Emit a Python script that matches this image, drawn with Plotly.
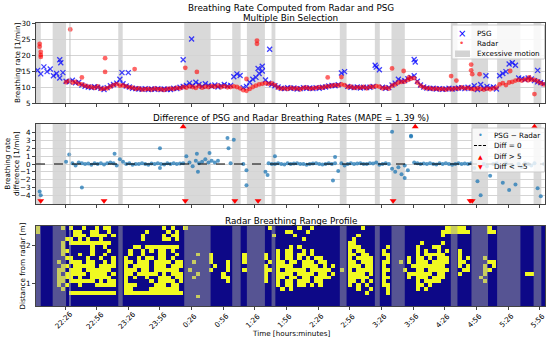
import plotly.graph_objects as go

FONT = "DejaVu Sans"

# ---------------- data ----------------
tick_minutes = [26, 56, 86, 116, 146, 176, 206, 236, 266, 296, 326, 356, 386, 416, 446, 476]
tick_labels = ["22:26", "22:56", "23:26", "23:56", "0:26", "0:56", "1:26", "1:56",
               "2:26", "2:56", "3:26", "3:56", "4:26", "4:56", "5:26", "5:56"]

# excessive motion intervals (minutes after 22:00)
motion_start = [-1.5, 14.3, 76.5, 139, 184.5, 198.4, 221.8, 286.5, 319.7, 335.5, 391.7, 411.3, 435.6, 470.2]
motion_end = [3.0, 27, 80.7, 164, 192.5, 215.5, 225.4, 292.9, 324.4, 348.1, 398, 427, 457.7, 477.5]
marker_line_min = 30.7

# breathing rate samples every 3 minutes, t = 0 .. 480
psg_rate = [
    15.2, 14.1, 16.3, 14.8, 15.6, 13.5, 14.2, 12.8,
    14.5, 11.8, 11.6, 12.1, 11.3, 11.5, 10.6, 10.2,
    10.0, 9.8, 10.1, 9.9, 9.6, 9.2, 9.8, 10.4,
    10.8, 11.2, 12.4, 11.0, 10.3, 10.0, 9.6, 9.5,
    9.4, 9.3, 9.5, 9.2, 9.4, 9.3, 9.5, 9.2,
    9.4, 9.3, 9.2, 9.6, 9.5, 9.9, 10.2, 10.5,
    11.2, 10.4, 11.5, 10.8, 10.2, 11.0, 10.5, 10.2,
    10.6, 10.0, 10.4, 10.8, 10.3, 10.5, 13.2, 14.1,
    13.6, 9.8, 10.2, 11.5, 12.4, 13.0, 14.2, 15.0,
    12.2, 11.2, 10.8, 10.4, 10.0, 9.6, 9.5, 9.8,
    9.6, 9.7, 9.4, 9.5, 9.8, 9.6, 9.7, 9.5,
    9.8, 9.6, 9.9, 10.0, 10.3, 10.5, 10.4, 10.7,
    14.4, 14.8, 10.2, 9.9, 9.8, 10.0, 9.7, 9.9,
    9.8, 9.9, 10.2, 16.2, 15.4, 9.9, 9.6, 9.8,
    10.6, 11.2, 12.4, 11.8, 12.0, 12.6, 13.0, 13.5,
    11.8, 10.6, 10.0, 9.7, 9.5, 9.6, 9.4, 9.5,
    9.3, 9.4, 9.6, 9.4, 9.5, 9.7, 9.8, 9.5,
    9.9, 9.6, 10.4, 9.2, 10.8, 9.6, 10.2, 9.8,
    10.0, 9.4, 13.5, 14.2, 14.8, 17.2, 17.6, 16.8,
    12.8, 12.6, 12.3, 12.8, 12.5, 12.0, 11.6, 11.4,
    11.0,
]
radar_rate = [
    None, None, None, None, None, None, None, None,
    None, 11.5, 11.9, 11.4, 11.6, 11.0, 10.8, 10.4,
    10.1, 10.0, 9.7, 10.2, 9.4, 9.5, 9.6, 10.1,
    10.6, 10.9, 10.4, 10.5, 10.2, 9.9, 9.8, 9.4,
    9.6, 9.2, 9.3, 9.4, 9.2, 9.5, 9.3, 9.3,
    9.1, 9.4, 9.5, 9.4, 9.7, 9.6, 10.0, 9.8,
    10.2, 10.0, 9.7, 10.3, 9.8, 10.1, 10.0, 10.3,
    10.1, 10.4, 10.0, 10.3, 9.9, 10.0, 10.2, 10.0,
    9.6, 9.0, 8.8, 9.4, 10.0, 10.4, 10.8, 11.0,
    11.2, 11.0, 11.1, 10.6, 9.8, 9.5, 9.6, 9.4,
    9.7, 9.5, 9.6, 9.3, 9.7, 9.8, 9.5, 9.6,
    9.7, 9.9, 9.8, 10.1, 10.2, 10.4, 10.6, 10.5,
    10.8, 10.6, 10.0, 10.1, 9.7, 9.9, 9.8, 10.0,
    9.6, 10.1, 10.0, 10.3, 10.1, 9.6, 9.8, 9.5,
    10.4, 10.8, 11.4, 11.6, 11.7, 12.2, 12.6, 12.8,
    11.4, 10.4, 9.9, 9.6, 9.6, 9.4, 9.5, 9.3,
    9.4, 9.2, 9.5, 9.3, 9.6, 9.5, 9.9, 9.6,
    9.7, 9.4, 9.3, 9.6, 9.4, 9.2, 9.5, 9.3,
    9.6, 9.8, 10.8, 11.2, 10.6, 11.4, 11.6, 12.0,
    12.2, 12.0, 12.4, 12.1, 12.3, 12.2, 11.8, 11.2,
    10.8,
]
diff_rate = [
    None, None, None, None, None, None, None, None,
    None, 0.3, 1.2, 0.1, -0.2, 0.2, 0.1, 0.0,
    0.05, -0.1, 0.1, 0.0, 0.1, -0.05, 0.1, 0.2,
    0.1, -0.2, 0.6, 0.3, 0.0, 0.1, -0.1, 0.0,
    0.0, 0.1, 0.0, -0.1, 0.05, 0.0, 0.1, 0.0,
    -0.05, 0.1, 0.0, 0.1, 0.0, 0.05, 0.1, 1.0,
    0.2, -0.3, 0.4, 0.1, 0.3, 0.6, 0.2, 0.4,
    0.2, 0.4, None, None, None, 0.1, 3.1, None,
    None, 0.0, -0.8, None, None, None, None, None,
    -1.0, 0.1, 0.0, 0.0, 0.1, 0.0, -0.05, 0.1,
    0.0, 0.05, 0.1, 0.0, 0.0, -0.1, 0.0, 0.05,
    0.1, 0.0, -0.05, 0.0, 0.1, 0.0, 0.1, -0.9,
    0.1, -0.2, 0.0, 0.1, 0.0, 0.05, 0.1, 0.0,
    0.0, 0.1, 0.05, 0.2, -0.1, 0.0, 0.1, 0.0,
    -0.6, -1.0, -0.4, -1.3, -0.2, -0.8, 3.6, 0.2,
    0.1, 0.0, 0.05, 0.0, 0.1, 0.0, -0.05, 0.1,
    0.0, 0.1, 0.0, -0.1, 0.0, 0.1, 0.0, 0.05,
    0.0, 0.1, -0.5, -2.2, -4.0, 0.0, -0.3, -1.5,
    0.0, 0.1, -0.3, -2.4, 0.1, -3.3, -0.2, -2.6,
    0.0, -0.4, 0.1, 0.0, -0.2, 0.1, -3.1, -4.1,
    0.0,
]
sample_min = list(range(0, 481, 3))

# isolated readings
psg_out_t = [21, 22, 80, 86, 138, 146, 209, 213, 220, 320, 357, 358, 425, 474]
psg_out_v = [18.5, 17.6, 14.5, 14.5, 18.5, 25.0, 15.8, 16.5, 21.8, 16.8, 18.6, 17.8, 13.5, 15.2]
radar_out_t = [2, 2, 3, 3, 3, 31, 42, 64, 64, 92, 140, 151, 198, 208, 208, 275, 288, 336,
               347, 352, 392, 397, 411, 411, 412, 419, 448, 466, 471]
radar_out_v = [23.5, 22.6, 21.0, 20.0, 19.4, 28.0, 13.0, 19.0, 14.7, 15.6, 16.0, 14.7, 12.5,
               23.5, 24.5, 13.0, 13.1, 15.8, 15.0, 13.0, 13.4, 12.0, 17.0, 15.2, 14.0, 14.0,
               15.0, 13.0, 7.8]
diff_out_t = [2, 3, 42, 73, 116, 116, 151, 152, 163, 180, 181, 198, 218, 225, 280, 282, 336, 348, 354]
diff_out_v = [-3.5, -4.0, -3.0, 1.3, 2.0, -0.5, 1.3, -1.0, 1.4, 3.3, 2.0, -2.7, -1.4, 1.0,
              -2.1, 0.9, 4.1, -1.8, 3.5]
diff_hi_t = [138, 358, 471]
diff_lo_t = [3, 63, 140, 187, 209, 337, 410, 412]
diff_hi_level = 4.75
diff_lo_level = -4.7

# range profile: columns every 4 min from t=0, rows every 0.1 m from 0.45 m (top row first)
profile_t0, profile_dt = 0, 4
profile_d0, profile_dd = 0.45, 0.1
profile_rows = [
    "#.....#.#. .#..#.##.. .......... #.#..#.... .......... .....#.... ..#..#.... .......#.. .......... .......### ##.....#.. .......... .",
    "#........# #..##..#.. ......#... .#.#...... .......... .........# #...#..... .......... .......... ......#### ###....##. .......... .",
    ".........# ##.####.#. .....#.... #.##...... .......... ......#... .#........ ......#... .......... ......#... .......... .......... .",
    ".......##. #.#..#.... .....#.... ##.#...... .......... .......... ...#...... .....#.... .......... .......... .......... .......... .",
    "......#.## ########.. .......... .......... .......... .......... .......... ....##.... .......... .#....#... .......... .......... .",
    "......#... ...#..#... ...##.#### ####...... .......... .......... #.#....... ....###... ...#...... #...##.... .......... .......... .",
    "......##.. ...#...#.. ..#..#.#.# #.#....... .......... .......#.# #..#.#.... ....#.##.. ..#....... #.#..#.#.. #......... .......... .",
    "......#... #..#..#... ..#..#...# #..#....#. .#.......# ....#..#.# #.##.#.... ....##.##. ..##...... #.#####... #......... .......... .",
    ".......##. ..#..#..#. .#..#.##.# #.#....... .#.......# ....#..#.# #.#.#.##.. ....#.#### ...#....#. ##.#.###.. #.#...#... .......... .",
    ".....#..## #.##..#.#. .##.###.## ##.##..#.. .#...#...# .....#.##. ##.###.##. ....##.### ..##..#.#. ###.####.. ##.....##. .......... .",
    "......##.# ####.####. .#.####.## #.###..... ..#..#.... ....#..### #..####.#. #...###.## ..#......# #######... #.#...#.#. .......... .",
    ".....##.## #.######.. .###.##.## ####..#... .#...#...# ....##.#.# ####.##### ..#.#.#### ..##...#.. ##.#####.. .##...##.. .......... .",
    ".....#.### ##.####.#. .##.#####. #.###...#. ....#..... ....#..### #.####.##. #...####.# ..#.....## ####.##... #.....#... ......##.. .",
    ".....####. #..#####.. .#.#..#..# ##.##..#.. ....##.... ....#..##. ##.##.#### ....#####. ..##....#. ###.###... .....#.... .......... .",
    ".....##.## ####.#.##. .#.....#.# ###.#..... .....#.... ....#..#.# #.###.##.. ....##.#.# ..#....... #.####.... ......#... .......... .",
    ".....#.#.. #...#####. .###....## #.##...... .......... .......#.# #.##.#.#.. ....#.#.#. ..##...... ##.#...... .......... .......... .",
    "......#... .......... .##....### ####...... .......... ........#. #......... ......#..# ...#...... #.#....... .......... .......... .",
    "........## #########. .######### #####..... .......... .......... .......... ........#. ...#...... .......... .......... .......... .",
    ".......... .......... .......... ........#. .......... .......... .......... .......... .......... .......... .......... .......... .",
    "",
    "",
]
N_COLS = 121

# ---------------- build ----------------
profile_z = []
for row in reversed(profile_rows):
    s = row.replace(" ", "").ljust(N_COLS, ".")[:N_COLS]
    profile_z.append([1 if ch == "#" else 0 for ch in s])

W, H = 550, 342
ML, MR, MT, MB = 36, 5, 23, 36
def px_x(px):
    return (px - ML) / (W - ML - MR)
def px_y(py):
    return (H - MB - py) / (H - MT - MB)

fig = go.Figure()

fig.add_trace(go.Scatter(
    x=sample_min + psg_out_t, y=psg_rate + psg_out_v, mode="markers",
    marker=dict(symbol="x-thin", size=5, color="blue", line=dict(color="rgba(0,0,255,0.75)", width=1.3)),
    xaxis="x", yaxis="y", showlegend=False))
fig.add_trace(go.Scatter(
    x=sample_min + radar_out_t, y=radar_rate + radar_out_v, mode="markers",
    marker=dict(symbol="circle", size=4.8, color="rgba(255,0,0,0.6)", line=dict(width=0)),
    xaxis="x", yaxis="y", showlegend=False))

fig.add_trace(go.Scatter(
    x=sample_min + diff_out_t, y=diff_rate + diff_out_v, mode="markers",
    marker=dict(symbol="circle", size=4, color="rgba(31,119,180,0.75)", line=dict(width=0)),
    xaxis="x2", yaxis="y2", showlegend=False))
fig.add_trace(go.Scatter(
    x=diff_hi_t, y=[diff_hi_level] * len(diff_hi_t), mode="markers",
    marker=dict(symbol="triangle-up", size=6, color="red", line=dict(width=0)),
    xaxis="x2", yaxis="y2", showlegend=False))
fig.add_trace(go.Scatter(
    x=diff_lo_t, y=[diff_lo_level] * len(diff_lo_t), mode="markers",
    marker=dict(symbol="triangle-down", size=6, color="red", line=dict(width=0)),
    xaxis="x2", yaxis="y2", showlegend=False))

fig.add_trace(go.Heatmap(
    z=profile_z, x0=profile_t0, dx=profile_dt, y0=profile_d0, dy=profile_dd,
    colorscale=[[0, "#0d0887"], [1, "#f0f921"]], zmin=0, zmax=1, showscale=False,
    xaxis="x3", yaxis="y3", hoverinfo="skip"))

shapes = []
for s, e in zip(motion_start, motion_end):
    for xr, yr, fill, layer in (("x", "y domain", "#d9d9d9", "below"),
                                ("x2", "y2 domain", "#d9d9d9", "below"),
                                ("x3", "y3 domain", "rgba(160,160,160,0.5)", "above")):
        shapes.append(dict(type="rect", xref=xr, yref=yr, x0=s, x1=e, y0=0, y1=1,
                           fillcolor=fill, line=dict(width=0), layer=layer))
for xr, yr in (("x", "y domain"), ("x2", "y2 domain"), ("x3", "y3 domain")):
    shapes.append(dict(type="line", xref=xr, yref=yr, x0=marker_line_min, x1=marker_line_min,
                       y0=0, y1=1, line=dict(color="rgba(190,190,190,0.9)", width=1), layer="above"))
shapes.append(dict(type="line", xref="x2 domain", yref="y2", x0=0, x1=1, y0=0, y1=0,
                   line=dict(color="black", width=1, dash="dash"), layer="above"))

# legend boxes
shapes.append(dict(type="rect", xref="paper", yref="paper", x0=px_x(452), x1=px_x(544.5),
                   y0=px_y(59), y1=px_y(25), fillcolor="rgba(255,255,255,0.8)",
                   line=dict(color="#cccccc", width=1), layer="above"))
shapes.append(dict(type="rect", xref="paper", yref="paper", x0=px_x(455), x1=px_x(470),
                   y0=px_y(57), y1=px_y(50.5), fillcolor="#d3d3d3", line=dict(width=0), layer="above"))
shapes.append(dict(type="rect", xref="paper", yref="paper", x0=px_x(472), x1=px_x(544.5),
                   y0=px_y(172), y1=px_y(128), fillcolor="rgba(255,255,255,0.8)",
                   line=dict(color="#cccccc", width=1), layer="above"))
shapes.append(dict(type="line", xref="paper", yref="paper", x0=px_x(474), x1=px_x(487),
                   y0=px_y(145.5), y1=px_y(145.5), line=dict(color="black", width=1, dash="3px,1.5px"),
                   layer="above"))

ann = []
def text(x, y, s, size=7.2, color="black", xanchor="center", yanchor="middle", angle=0, **kw):
    ann.append(dict(x=x, y=y, xref=kw.pop("xref", "paper"), yref=kw.pop("yref", "paper"), text=s,
                    showarrow=False, xanchor=xanchor, yanchor=yanchor, textangle=angle,
                    font=dict(family=FONT, size=size, color=color), **kw))

mid = px_x(290.5)
text(mid, px_y(7.5), "Breathing Rate Computed from Radar and PSG", size=8.8)
text(mid, px_y(18), "Multiple Bin Selection", size=8.8)
text(mid, px_y(118.5), "Difference of PSG and Radar Breathing Rates (MAPE = 1.39 %)", size=8.8)
text(mid, px_y(220.5), "Radar Breathing Range Profile", size=8.8)
text(mid, px_y(333), "Time [hours:minutes]")
text(px_x(17), px_y(63), "Breathing rate [1/min]", angle=-90)
text(px_x(12), px_y(164), "Breathing rate<br>difference [1/min]", angle=-90)
text(px_x(21.5), px_y(266), "Distance from radar [m]", angle=-90)

for tv, tl in zip(tick_minutes, tick_labels):
    text(tv, 0, tl, angle=-45, xref="x3", yshift=-14, xshift=-2)

# legend entries
text(px_x(461.7), px_y(33.3), "×", size=10, color="blue")
text(px_x(475), px_y(33.3), "PSG", xanchor="left")
text(px_x(461.7), px_y(43.3), "•", size=9, color="rgba(255,0,0,0.7)")
text(px_x(475), px_y(43.3), "Radar", xanchor="left")
text(px_x(475), px_y(53.3), "Excessive motion", xanchor="left")

text(px_x(480.5), px_y(135), "•", size=8, color="rgba(31,119,180,0.8)")
text(px_x(492), px_y(135), "PSG − Radar", xanchor="left")
text(px_x(492), px_y(145.5), "Diff = 0", xanchor="left")
text(px_x(480.5), px_y(156), "▲", size=6, color="red")
text(px_x(492), px_y(156), "Diff > 5", xanchor="left")
text(px_x(480.5), px_y(166.5), "▼", size=6, color="red")
text(px_x(492), px_y(166.5), "Diff < −5", xanchor="left")

axis_common = dict(showline=True, linecolor="#444", linewidth=1, mirror=True, ticks="outside",
                   ticklen=3, tickcolor="#444", tickfont=dict(family=FONT, size=7.2, color="black"),
                   zeroline=False, automargin=False)
xr_ = [-1.5, 481]
d1 = [px_y(103), 1.0]
d2 = [px_y(204), px_y(124)]
d3 = [0.0, px_y(226)]

fig.update_layout(
    width=W, height=H, margin=dict(l=ML, r=MR, t=MT, b=MB, autoexpand=False),
    paper_bgcolor="white", plot_bgcolor="white", showlegend=False,
    font=dict(family=FONT, size=7.2, color="black"),
    xaxis=dict(axis_common, domain=[0, 1], anchor="y", range=xr_, tickvals=tick_minutes,
               showticklabels=False, showgrid=False),
    yaxis=dict(axis_common, domain=d1, anchor="x", range=[5, 30], tickvals=[5, 10, 15, 20, 25, 30],
               showgrid=True, gridcolor="#d4d4d4", gridwidth=0.8),
    xaxis2=dict(axis_common, domain=[0, 1], anchor="y2", range=xr_, tickvals=tick_minutes,
                showticklabels=False, showgrid=False),
    yaxis2=dict(axis_common, domain=d2, anchor="x2", range=[-5.1, 5.1],
                tickvals=[-4, -3, -2, -1, 0, 1, 2, 3, 4],
                ticktext=["−4", "−3", "−2", "−1", "0", "1", "2", "3", "4"],
                showgrid=True, gridcolor="#d4d4d4", gridwidth=0.8),
    xaxis3=dict(axis_common, domain=[0, 1], anchor="y3", range=xr_, tickvals=tick_minutes,
                showticklabels=False, showgrid=False),
    yaxis3=dict(axis_common, domain=d3, anchor="x3", range=[0.4, 2.5], tickvals=[1, 2],
                showgrid=False),
    shapes=shapes, annotations=ann,
)

fig.write_html("out.html", config={"displayModeBar": False},
               post_script="document.body.style.margin='0';document.body.style.overflow='hidden';")
